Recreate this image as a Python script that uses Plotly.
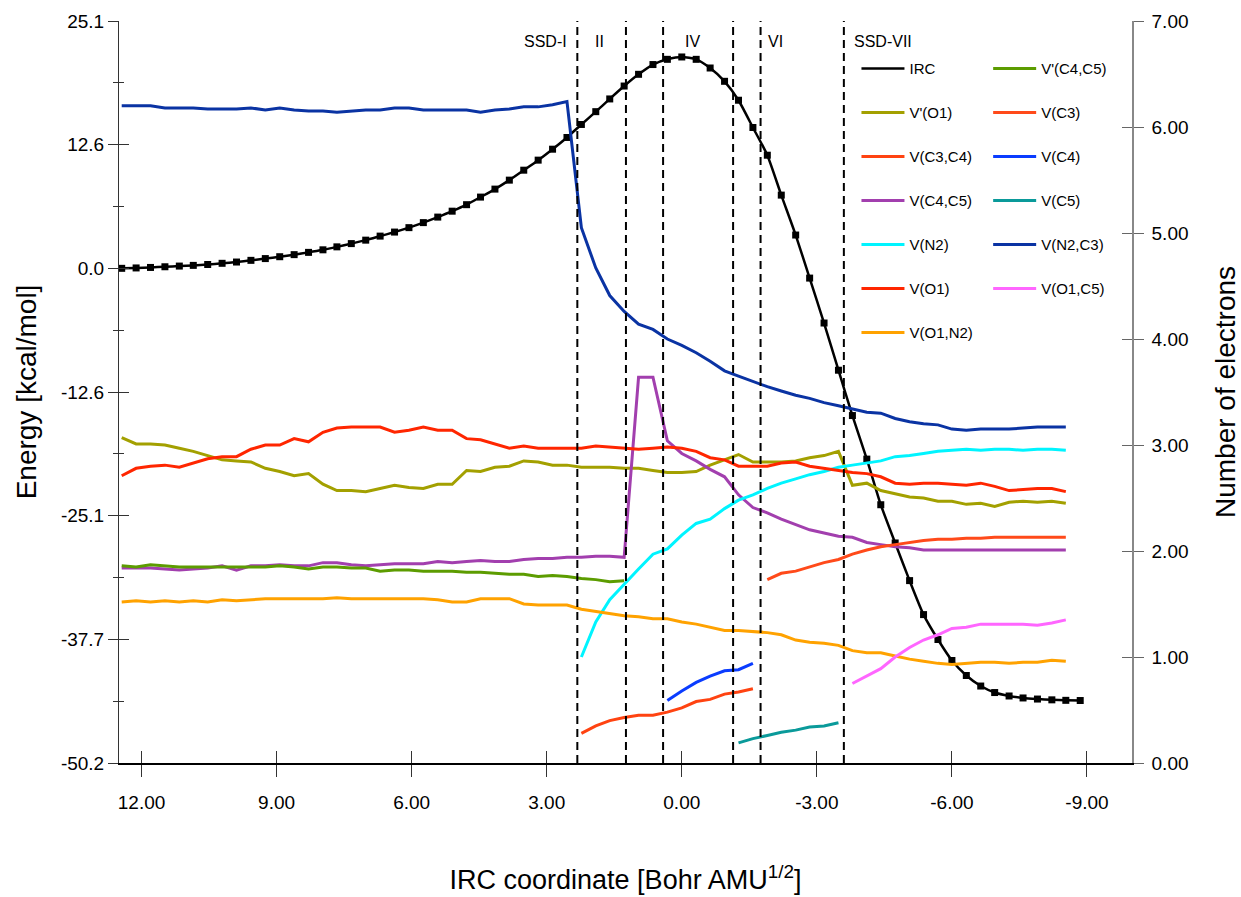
import plotly.graph_objects as go

# IRC coordinate of every computed point [Bohr AMU^1/2]
IRC_COORD = [12.44, 12.12, 11.80, 11.48, 11.16, 10.85, 10.53, 10.21, 9.89, 9.57,
             9.25, 8.93, 8.61, 8.29, 7.97, 7.66, 7.34, 7.02, 6.70, 6.38,
             6.06, 5.74, 5.42, 5.10, 4.78, 4.47, 4.15, 3.83, 3.51, 3.19,
             2.87, 2.55, 2.23, 1.91, 1.60, 1.28, 0.96, 0.64, 0.32, 0.00,
             -0.32, -0.63, -0.95, -1.26, -1.58, -1.90, -2.21, -2.53, -2.84, -3.16,
             -3.48, -3.79, -4.11, -4.42, -4.74, -5.06, -5.37, -5.69, -6.00, -6.32,
             -6.64, -6.95, -7.27, -7.58, -7.90, -8.22, -8.53, -8.85]

# Relative energy along the IRC [kcal/mol]
IRC_ENERGY = [0.00, 0.04, 0.09, 0.16, 0.23, 0.30, 0.39, 0.51, 0.64, 0.81,
              0.99, 1.18, 1.39, 1.62, 1.88, 2.18, 2.51, 2.86, 3.27, 3.68,
              4.13, 4.64, 5.20, 5.80, 6.46, 7.23, 8.04, 8.95, 9.96, 10.98,
              12.09, 13.28, 14.60, 15.90, 17.19, 18.50, 19.69, 20.68, 21.21, 21.45,
              21.21, 20.33, 18.98, 17.06, 14.29, 11.48, 7.43, 3.38, -0.99, -5.55,
              -10.34, -14.94, -19.36, -23.99, -27.87, -31.69, -35.14, -37.67, -39.80, -41.32,
              -42.39, -43.05, -43.40, -43.60, -43.71, -43.79, -43.84, -43.86]

# ELF basin populations [electrons]; each series starts at the given IRC point index
V_N2_C3 = [6.20, 6.20, 6.20, 6.18, 6.18, 6.18, 6.17, 6.17, 6.17, 6.18,
           6.16, 6.18, 6.16, 6.15, 6.15, 6.14, 6.15, 6.16, 6.16, 6.18,
           6.18, 6.16, 6.16, 6.16, 6.16, 6.14, 6.16, 6.17, 6.19, 6.19,
           6.21, 6.24, 5.05, 4.67, 4.41, 4.26, 4.14, 4.09, 4.00, 3.94,
           3.87, 3.79, 3.70, 3.65, 3.60, 3.55, 3.51, 3.47, 3.44, 3.40,
           3.37, 3.34, 3.31, 3.30, 3.25, 3.22, 3.20, 3.19, 3.15, 3.14,
           3.15, 3.15, 3.15, 3.16, 3.17, 3.17, 3.17]
V_O1 = [2.71, 2.78, 2.80, 2.81, 2.79, 2.83, 2.87, 2.89, 2.89, 2.96,
        3.00, 3.00, 3.06, 3.03, 3.12, 3.16, 3.17, 3.17, 3.17, 3.12,
        3.14, 3.17, 3.14, 3.14, 3.06, 3.05, 3.01, 2.97, 2.99, 2.97,
        2.97, 2.97, 2.97, 2.99, 2.98, 2.97, 2.96, 2.97, 2.98, 2.97,
        2.94, 2.88, 2.86, 2.80, 2.80, 2.80, 2.83, 2.84, 2.80, 2.78,
        2.76, 2.74, 2.73, 2.70, 2.64, 2.63, 2.64, 2.64, 2.63, 2.62,
        2.64, 2.61, 2.57, 2.58, 2.59, 2.59, 2.56]
V_PRIME_O1 = [3.07, 3.01, 3.01, 3.00, 2.97, 2.94, 2.90, 2.86, 2.85, 2.84,
              2.78, 2.75, 2.71, 2.73, 2.63, 2.57, 2.57, 2.56, 2.59, 2.62,
              2.60, 2.59, 2.63, 2.63, 2.76, 2.75, 2.79, 2.80, 2.85, 2.84,
              2.81, 2.81, 2.79, 2.79, 2.79, 2.78, 2.78, 2.76, 2.74, 2.74,
              2.75, 2.81, 2.86, 2.91, 2.84, 2.84, 2.84, 2.85, 2.88, 2.90,
              2.94, 2.62, 2.64, 2.57, 2.54, 2.51, 2.50, 2.47, 2.47, 2.44,
              2.45, 2.42, 2.46, 2.47, 2.46, 2.47, 2.45]
V_C4_C5 = [1.84, 1.84, 1.84, 1.83, 1.82, 1.83, 1.84, 1.86, 1.82, 1.86,
           1.86, 1.87, 1.86, 1.86, 1.89, 1.89, 1.87, 1.86, 1.87, 1.88,
           1.88, 1.88, 1.90, 1.89, 1.90, 1.91, 1.90, 1.90, 1.92, 1.93,
           1.93, 1.94, 1.94, 1.95, 1.95, 1.94, 3.64, 3.64, 3.04, 2.92,
           2.85, 2.77, 2.70, 2.53, 2.41, 2.36, 2.30, 2.25, 2.20, 2.17,
           2.14, 2.13, 2.08, 2.06, 2.04, 2.03, 2.01, 2.01, 2.01, 2.01,
           2.01, 2.01, 2.01, 2.01, 2.01, 2.01, 2.01]
V_PRIME_C4_C5 = [1.86, 1.85, 1.87, 1.86, 1.85, 1.85, 1.85, 1.85, 1.85, 1.85,
                 1.85, 1.86, 1.85, 1.83, 1.85, 1.85, 1.84, 1.84, 1.81, 1.82,
                 1.82, 1.81, 1.81, 1.81, 1.80, 1.80, 1.79, 1.78, 1.78, 1.76,
                 1.77, 1.76, 1.74, 1.73, 1.71, 1.72]
V_O1_N2 = [1.52, 1.53, 1.52, 1.53, 1.52, 1.53, 1.52, 1.54, 1.53, 1.54,
           1.55, 1.55, 1.55, 1.55, 1.55, 1.56, 1.55, 1.55, 1.55, 1.55,
           1.55, 1.55, 1.54, 1.52, 1.52, 1.55, 1.55, 1.55, 1.50, 1.49,
           1.49, 1.49, 1.45, 1.43, 1.41, 1.39, 1.38, 1.36, 1.36, 1.33,
           1.31, 1.28, 1.25, 1.25, 1.24, 1.23, 1.21, 1.16, 1.14, 1.13,
           1.11, 1.06, 1.04, 1.04, 1.01, 0.98, 0.96, 0.94, 0.93, 0.94,
           0.95, 0.95, 0.94, 0.95, 0.95, 0.97, 0.96]
V_N2 = [1.00, 1.33, 1.54, 1.69, 1.83, 1.97, 2.02, 2.15,
        2.26, 2.30, 2.40, 2.48, 2.53, 2.59, 2.64, 2.68, 2.72, 2.75,
        2.79, 2.81, 2.83, 2.85, 2.89, 2.90, 2.92, 2.94, 2.95, 2.96,
        2.95, 2.96, 2.96, 2.95, 2.96, 2.96, 2.95]
V_C3_C4 = [0.28, 0.35, 0.40, 0.43, 0.45, 0.45, 0.48, 0.52, 0.58, 0.60, 0.65, 0.67, 0.70]
V_C4 = [0.59, 0.68, 0.76, 0.82, 0.87, 0.88, 0.94]
V_C5 = [0.19, 0.23, 0.26, 0.29, 0.31, 0.34, 0.35, 0.38]
V_C3 = [1.73, 1.79, 1.81, 1.85, 1.89, 1.92, 1.97, 2.01, 2.04, 2.06, 2.08,
        2.10, 2.11, 2.11, 2.12, 2.12, 2.13, 2.13, 2.13, 2.13, 2.13, 2.13]
V_O1_C5 = [0.75, 0.82, 0.89, 1.00, 1.09, 1.16, 1.21, 1.27, 1.28, 1.31,
           1.31, 1.31, 1.31, 1.30, 1.32, 1.35]

# Structural stability domain boundaries and their labels
SSD_BOUNDS = [2.32, 1.24, 0.415, -1.14, -1.75, -3.60]
SSD_LABELS = [("SSD-I", 2.50, "right"), ("II", 1.82, "center"), ("IV", -0.24, "center"),
              ("VI", -2.09, "center"), ("SSD-VII", -3.78, "left")]

# Axis ticks
X_TICKS = [12, 9, 6, 3, 0, -3, -6, -9]
X_TICK_TEXT = ["12.00", "9.00", "6.00", "3.00", "0.00", "-3.00", "-6.00", "-9.00"]
E_TICKS = [25.1, 12.55, 0.0, -12.55, -25.1, -37.65, -50.2]
E_TICK_TEXT = ["25.1", "12.6", "0.0", "-12.6", "-25.1", "-37.7", "-50.2"]
N_TICKS = [0, 1, 2, 3, 4, 5, 6, 7]

# name, values, start index, colour, legend column, row
BASINS = [
    ("V'(O1)", V_PRIME_O1, 0, "#a3a000", 1, 2),
    ("V(C3,C4)", V_C3_C4, 32, "#ff4311", 1, 3),
    ("V(C4,C5)", V_C4_C5, 0, "#a23fae", 1, 4),
    ("V(N2)", V_N2, 32, "#00f4ff", 1, 5),
    ("V(O1)", V_O1, 0, "#ff2600", 1, 6),
    ("V(O1,N2)", V_O1_N2, 0, "#ffa200", 1, 7),
    ("V'(C4,C5)", V_PRIME_C4_C5, 0, "#5c9c00", 2, 1),
    ("V(C3)", V_C3, 45, "#ff4a1a", 2, 2),
    ("V(C4)", V_C4, 38, "#0a3cff", 2, 3),
    ("V(C5)", V_C5, 43, "#0a9a9a", 2, 4),
    ("V(N2,C3)", V_N2_C3, 0, "#0a33a3", 2, 5),
    ("V(O1,C5)", V_O1_C5, 51, "#ff66ff", 2, 6),
]

FONT = "Liberation Sans, Arial, sans-serif"
X_RANGE = [12.5, -10.0]
E_RANGE = [-50.2, 25.1]
N_RANGE = [0, 7]
TICK_COLOR = "#333"

fig = go.Figure()

for name, vals, start, color, col, row in BASINS:
    fig.add_trace(go.Scatter(
        x=IRC_COORD[start:start + len(vals)], y=vals, name=name, yaxis="y2",
        mode="lines", line=dict(color=color, width=3),
        legend="legend" if col == 1 else "legend2",
        legendgroup=name, legendrank=row, hoverinfo="skip"))

# energy profile: smooth curve plus square markers at the computed points
fig.add_trace(go.Scatter(
    x=IRC_COORD, y=IRC_ENERGY, name="IRC", mode="lines",
    line=dict(color="black", width=2.5, shape="spline", smoothing=0.6),
    legend="legend", legendgroup="IRC", legendrank=1, hoverinfo="skip"))
fig.add_trace(go.Scatter(
    x=IRC_COORD, y=IRC_ENERGY, name="IRC", mode="markers",
    marker=dict(symbol="square", size=7, color="black"),
    legendgroup="IRC", showlegend=False, hoverinfo="skip"))

# empty traces so the tick-mirroring axes get drawn (ticks cross the axis lines)
fig.add_trace(go.Scatter(x=[], y=[], xaxis="x2", yaxis="y3", showlegend=False,
                         hoverinfo="skip"))
fig.add_trace(go.Scatter(x=[], y=[], xaxis="x2", yaxis="y4", showlegend=False,
                         hoverinfo="skip"))

for xb in SSD_BOUNDS:
    fig.add_shape(type="line", xref="x", yref="paper", x0=xb, x1=xb, y0=0, y1=1,
                  line=dict(color="black", width=2, dash="8px,5px"))

for text, xpos, anchor in SSD_LABELS:
    fig.add_annotation(x=xpos, y=0.973, xref="x", yref="paper", text=text,
                       showarrow=False, xanchor=anchor, yanchor="middle",
                       font=dict(family=FONT, size=16, color="black"))

tick_font = dict(family=FONT, size=19, color="black")
leg_common = dict(font=dict(family=FONT, size=15, color="black"),
                  bgcolor="rgba(0,0,0,0)", borderwidth=0, traceorder="grouped",
                  tracegroupgap=21.5, itemwidth=43, xanchor="left", yanchor="top",
                  itemclick=False, itemdoubleclick=False)

fig.update_layout(
    width=1241, height=897,
    margin=dict(l=119, r=109, t=21, b=134, autoexpand=False),
    paper_bgcolor="white", plot_bgcolor="white",
    showlegend=True,
    legend=dict(x=0.728, y=0.958, **leg_common),
    legend2=dict(x=0.858, y=0.958, **leg_common),
    xaxis=dict(range=X_RANGE, tickvals=X_TICKS, ticktext=X_TICK_TEXT,
               ticks="outside", ticklen=12, tickwidth=1, tickcolor=TICK_COLOR,
               showline=True, linecolor="black", linewidth=1.5,
               showgrid=False, zeroline=False, tickfont=tick_font,
               ticklabelstandoff=9,
               title=dict(text="IRC coordinate [Bohr AMU<sup>1/2</sup>]",
                          font=dict(family=FONT, size=27, color="black"),
                          standoff=59)),
    xaxis2=dict(range=X_RANGE, overlaying="x", anchor="y", side="bottom",
                tickvals=X_TICKS, ticks="inside", ticklen=12, tickwidth=1,
                tickcolor=TICK_COLOR, showticklabels=False, showline=False,
                showgrid=False, zeroline=False),
    yaxis=dict(range=E_RANGE, tickvals=E_TICKS, ticktext=E_TICK_TEXT,
               ticks="outside", ticklen=10, tickwidth=1, tickcolor=TICK_COLOR,
               minor=dict(tick0=25.1, dtick=6.275, ticks="outside", ticklen=5,
                          tickwidth=1, tickcolor=TICK_COLOR, showgrid=False),
               showline=True, linecolor="#333", linewidth=1,
               showgrid=False, zeroline=False, tickfont=tick_font,
               ticklabelstandoff=0,
               title=dict(text="Energy [kcal/mol]",
                          font=dict(family=FONT, size=28, color="black"),
                          standoff=16)),
    yaxis3=dict(range=E_RANGE, overlaying="y", anchor="x", side="left",
                tickvals=E_TICKS, ticks="inside", ticklen=10, tickwidth=1,
                tickcolor=TICK_COLOR,
                minor=dict(tick0=25.1, dtick=6.275, ticks="inside", ticklen=5,
                           tickwidth=1, tickcolor=TICK_COLOR, showgrid=False),
                showticklabels=False, showline=False, showgrid=False, zeroline=False),
    yaxis2=dict(range=N_RANGE, overlaying="y", anchor="x", side="right",
                tickvals=N_TICKS, tickformat=".2f",
                ticks="outside", ticklen=10, tickwidth=1, tickcolor="#666",
                showline=True, linecolor="#888", linewidth=1.5,
                showgrid=False, zeroline=False, tickfont=tick_font,
                ticklabelstandoff=4,
                title=dict(text="Number of electrons",
                           font=dict(family=FONT, size=28, color="black"),
                           standoff=44)),
    yaxis4=dict(range=N_RANGE, overlaying="y", anchor="x2", side="right",
                tickvals=N_TICKS, ticks="inside", ticklen=10, tickwidth=1,
                tickcolor="#666", showticklabels=False, showline=False,
                showgrid=False, zeroline=False),
)

fig.write_html("out.html")
